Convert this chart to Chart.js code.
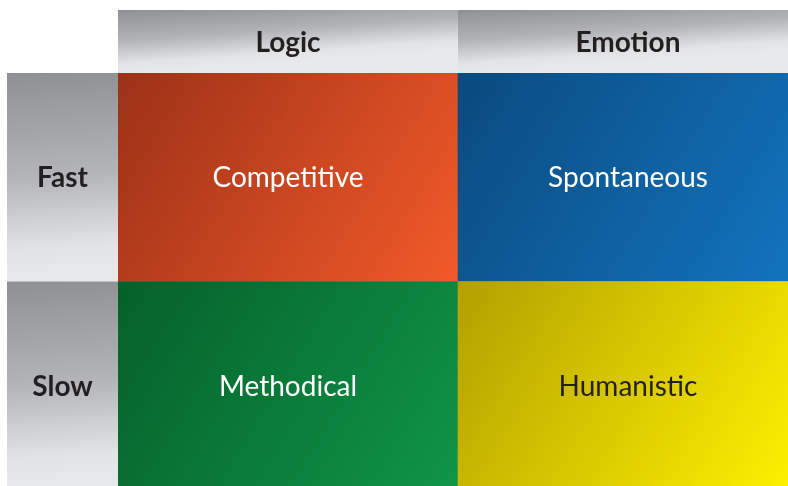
<!DOCTYPE html>
<html>
<head>
<meta charset="utf-8">
<script src="https://cdn.jsdelivr.net/npm/chart.js@4.4.0/dist/chart.umd.min.js"></script>
<style>
  html, body { margin: 0; padding: 0; background: #ffffff; overflow: hidden; }
  #wrap { width: 788px; height: 486px; overflow: hidden; }
</style>
</head>
<body>
<div id="wrap"><canvas id="matrixChart" width="798" height="490"></canvas></div>
<script>
// columns across the top, rows down the side
var columns = ['Logic', 'Emotion'];
var rows = ['Fast', 'Slow'];
// text shown in each cell, rows x columns
var fastCells = ['Competitive', 'Spontaneous'];
var slowCells = ['Methodical', 'Humanistic'];
// every cell takes one unit on the stacked scale
var fastSize = [1, 1];
var slowSize = [1, 1];

// styles: gradient from top-left corner to bottom-right corner
var cellStyle = {
    Competitive: { from: '#9c3117', to: '#f25a29', text: '#ffffff' },
    Spontaneous: { from: '#0a4a7e', to: '#1274bf', text: '#ffffff' },
    Methodical: { from: '#05602a', to: '#0f9548', text: '#ffffff' },
    Humanistic: { from: '#b2a000', to: '#fff200', text: '#231f20' }
};

function cellBox(chart, col, bottomVal, topVal) {
    var x = chart.scales.x, y = chart.scales.y;
    var half = (x.width / columns.length) / 2;
    var cx = x.getPixelForValue(col);
    return { left: cx - half, right: cx + half, top: y.getPixelForValue(topVal), bottom: y.getPixelForValue(bottomVal) };
}

function cellGradient(names, bottomVal, topVal) {
    return function (ctx) {
        var chart = ctx.chart;
        if (!chart.chartArea || !chart.scales.x) return '#888';
        var b = cellBox(chart, ctx.dataIndex, bottomVal, topVal);
        var st = cellStyle[names[ctx.dataIndex]];
        var g = chart.ctx.createLinearGradient(b.left, b.top, b.right, b.bottom);
        g.addColorStop(0, st.from);
        g.addColorStop(1, st.to);
        return g;
    };
}

// gray header box, mostly vertical sheen
function grayFill(c, x0, y0, x1, y1) {
    var h = y1 - y0;
    var g = c.createLinearGradient(x0, y0, x0 + h * 0.07, y1);
    g.addColorStop(0, '#8f9094');
    g.addColorStop(0.5, '#b3b4b7');
    g.addColorStop(0.85, '#e2e3e4');
    g.addColorStop(1, '#e8e9ea');
    c.fillStyle = g;
    c.fillRect(x0, y0, x1 - x0, y1 - y0);
}

var headerPlugin = {
    id: 'headers',
    beforeDatasetsDraw: function (chart) {
        var c = chart.ctx, area = chart.chartArea;
        var x = chart.scales.x, y = chart.scales.y;
        var colW = x.width / columns.length;
        c.save();
        columns.forEach(function (name, i) {
            var cx = x.getPixelForValue(i);
            grayFill(c, cx - colW / 2, 10, cx + colW / 2, area.top);
        });
        rows.forEach(function (name, i) {
            var topVal = rows.length - i, botVal = topVal - 1;
            grayFill(c, 7, y.getPixelForValue(topVal), area.left, y.getPixelForValue(botVal));
        });
        c.font = 'bold 28px Lato';
        c.fillStyle = '#231f20';
        c.textAlign = 'center';
        c.textBaseline = 'middle';
        columns.forEach(function (name, i) {
            c.fillText(name, x.getPixelForValue(i), (10 + area.top) / 2 + 1);
        });
        rows.forEach(function (name, i) {
            var topVal = rows.length - i, botVal = topVal - 1;
            var cy = (y.getPixelForValue(topVal) + y.getPixelForValue(botVal)) / 2;
            c.fillText(name, (7 + area.left) / 2, cy + 1);
        });
        c.restore();
    },
    afterDatasetsDraw: function (chart) {
        var c = chart.ctx;
        c.save();
        c.font = '28px Lato';
        c.textAlign = 'center';
        c.textBaseline = 'middle';
        chart.data.datasets.forEach(function (ds, di) {
            var meta = chart.getDatasetMeta(di);
            meta.data.forEach(function (bar, i) {
                var name = ds.cellNames[i];
                c.fillStyle = cellStyle[name].text;
                c.fillText(name, bar.x, (bar.y + bar.base) / 2 + 1);
            });
        });
        c.restore();
    }
};

var ctx = document.getElementById('matrixChart').getContext('2d');
var matrixChart = new Chart(ctx, {
    type: 'bar',
    data: {
        labels: columns,
        datasets: [
            {
                label: rows[1],
                data: slowSize,
                cellNames: slowCells,
                backgroundColor: cellGradient(slowCells, 0, 1),
                borderWidth: 0,
                barPercentage: 1,
                categoryPercentage: 1
            },
            {
                label: rows[0],
                data: fastSize,
                cellNames: fastCells,
                backgroundColor: cellGradient(fastCells, 1, 2),
                borderWidth: 0,
                barPercentage: 1,
                categoryPercentage: 1
            }
        ]
    },
    options: {
        responsive: false,
        animation: false,
        layout: { padding: { left: 118, top: 73, right: 0, bottom: 0 } },
        plugins: { legend: { display: false }, tooltip: { enabled: false } },
        scales: {
            x: { stacked: true, display: false },
            y: { stacked: true, display: false, min: 0, max: 2 }
        }
    },
    plugins: [headerPlugin]
});
</script>
</body>
</html>
